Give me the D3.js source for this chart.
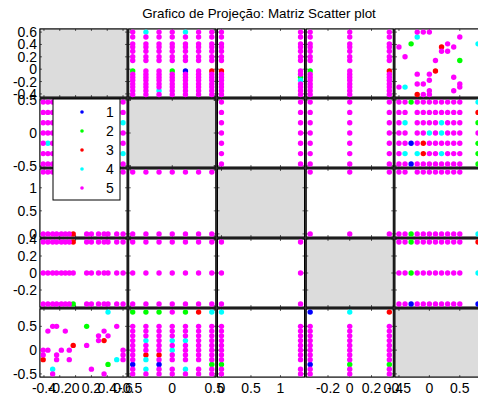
<!DOCTYPE html>
<html>
<head>
<meta charset="utf-8">
<script src="https://cdn.jsdelivr.net/npm/d3@7"></script>
<style>
  body { margin: 0; background: #fff; }
  svg { display: block; }
  text { font-family: "Liberation Sans", Arial, sans-serif; fill: #000; }
</style>
</head>
<body>
<svg id="chart" width="478" height="398"></svg>
<script>
// ---- data -------------------------------------------------------------
const chartTitle = "Grafico de Projeção: Matriz Scatter plot";
const classNames = ["1", "2", "3", "4", "5"];
const classColors = ["#0000ff", "#00ff00", "#ff0000", "#00ffff", "#ff00ff"];

// distinct values taken by each of the five projected variables
const v1Levels = [-0.41, -0.35, -0.29, -0.24, -0.18, -0.13, -0.08, -0.03, 0.14, 0.2, 0.29, 0.36, 0.41, 0.52, 0.6];
const v2Levels = [-0.47, -0.313, -0.157, 0, 0.157, 0.313, 0.47];
const v3Levels = [0, 1.34];
const v4Levels = [-0.364, 0, 0.364];
const v5Levels = [-0.5, -0.4, -0.3, -0.2, -0.1, 0, 0.1, 0.2, 0.3, 0.4, 0.5, 0.8];

// axis limits and tick values per variable
const varLimits = [[-0.45, 0.65], [-0.517, 0.517], [-0.067, 1.407], [-0.4, 0.4], [-0.565, 0.865]];
const varTicks = [[-0.4, -0.2, 0, 0.2, 0.4, 0.6], [-0.5, 0, 0.5], [0, 0.5, 1], [-0.2, 0, 0.2, 0.4], [-0.5, 0, 0.5]];

// level grids: one string per level of the first variable, one character
// per level of the second; the character is the top class in that cell, "." = empty
const grid12 = [ // v1 x v2
  "5555555", "5545555", "5555555", "5555555", "5555555", "5555555", "5555555",
  "2552153", "5555555", "5555555", "5555555", "5555555", "5555555", "5555555", "5455455"
];
const grid13 = [ // v1 x v3
  "55", "55", "55", "55", "54", "52", "55", "35", "55", "55", "55", "55", "55", "55", "55"
];
const grid14 = [ // v1 x v4
  "555", "555", "555", "555", "555", "555", "555", "253", "555", "555", "555", "555", "555", "555", "555"
];
const grid23 = ["55", "55", "55", "55", "55", "55", "55"];            // v2 x v3
const grid24 = ["555", "555", "555", "555", "555", "555", "555"];     // v2 x v4
const grid25 = [ // v2 x v5
  "551555555552",
  "54.435545552",
  "551535555552",
  "55.554545555",
  "54.555545552",
  "55.555555553",
  "552555555554"
];
const grid34 = ["555", "555"];                                       // v3 x v4
const grid35 = ["552555555554", "55.55555555."];                     // v3 x v5
const grid45 = ["551555555551", "552555555554", "552555555553"];     // v4 x v5

// v1 / v5 pairs: [v1, v5, class]
const v1v5Points = [
  [0.41, 0.8, 4], [-0.35, 0.4, 5], [-0.29, 0.5, 5], [-0.24, 0.5, 5], [-0.13, 0.4, 5],
  [0.14, 0.5, 2], [0.29, 0.3, 5], [0.41, 0.3, 5], [0.36, 0.4, 5], [0.52, 0.5, 5],
  [-0.03, 0.1, 3], [0.14, 0.1, 5], [0.29, 0.2, 5], [0.36, 0.2, 3], [-0.41, 0, 5],
  [-0.35, 0, 5], [-0.18, 0, 5], [-0.08, 0, 5], [0.6, 0, 5], [-0.41, -0.2, 3],
  [-0.41, -0.1, 5], [-0.24, -0.1, 5], [-0.24, -0.2, 5], [-0.08, -0.2, 5], [0.6, -0.1, 5],
  [0.6, -0.2, 5], [0.52, -0.2, 4], [0.41, -0.3, 2], [-0.29, -0.4, 4], [-0.29, -0.5, 5],
  [0.2, -0.4, 5], [0.36, -0.5, 5]
];

// ---- build point sets for every pair of variables ----------------------
const levels = [v1Levels, v2Levels, v3Levels, v4Levels, v5Levels];
function fromGrid(a, b, rows) {
  const pts = [];
  rows.forEach((row, i) => {
    row.split("").forEach((ch, j) => {
      if (ch !== ".") pts.push({ va: levels[a][i], vb: levels[b][j], cls: +ch });
    });
  });
  return pts;
}
const pairs = [
  { a: 0, b: 1, pts: fromGrid(0, 1, grid12) },
  { a: 0, b: 2, pts: fromGrid(0, 2, grid13) },
  { a: 0, b: 3, pts: fromGrid(0, 3, grid14) },
  { a: 0, b: 4, pts: v1v5Points.map(d => ({ va: d[0], vb: d[1], cls: d[2] })) },
  { a: 1, b: 2, pts: fromGrid(1, 2, grid23) },
  { a: 1, b: 3, pts: fromGrid(1, 3, grid24) },
  { a: 1, b: 4, pts: fromGrid(1, 4, grid25) },
  { a: 2, b: 3, pts: fromGrid(2, 3, grid34) },
  { a: 2, b: 4, pts: fromGrid(2, 4, grid35) },
  { a: 3, b: 4, pts: fromGrid(3, 4, grid45) }
];

// ---- layout -----------------------------------------------------------
const nVar = 5;
const plotLeft = 40, plotTop = 29, colStep = 88.75, rowStep = 70, cellW = 87, cellH = 68;
const svg = d3.select("#chart");

svg.append("text")
  .attr("x", 259).attr("y", 18)
  .attr("text-anchor", "middle")
  .style("font-size", "13.4px")
  .text(chartTitle);

const xScales = d3.range(nVar).map(c =>
  d3.scaleLinear().domain(varLimits[c]).range([plotLeft + c * colStep, plotLeft + c * colStep + cellW]));
const yScales = d3.range(nVar).map(r =>
  d3.scaleLinear().domain(varLimits[r]).range([plotTop + r * rowStep + cellH, plotTop + r * rowStep]));

// panel frames
const panels = [];
for (let r = 0; r < nVar; r++) for (let c = 0; c < nVar; c++) panels.push({ r, c });

svg.append("rect")
  .attr("x", plotLeft - 0.5).attr("y", plotTop - 0.5)
  .attr("width", (nVar - 1) * colStep + cellW + 1)
  .attr("height", (nVar - 1) * rowStep + cellH + 1)
  .attr("fill", "#3a3a3a");

const pg = svg.selectAll("g.panel").data(panels).join("g").attr("class", "panel");
pg.append("rect")
  .attr("x", d => xScales[d.c].range()[0])
  .attr("y", d => yScales[d.r].range()[1])
  .attr("width", cellW).attr("height", cellH)
  .attr("fill", d => d.r === d.c ? "#dcdcdc" : "#fff")
  .attr("stroke", "#000").attr("stroke-width", 1);

// inner tick marks on every panel
pg.each(function (d) {
  const g = d3.select(this);
  const xs = xScales[d.c], ys = yScales[d.r];
  const [x0, x1] = xs.range(), [y1, y0] = ys.range();
  varTicks[d.c].forEach(t => {
    const x = xs(t);
    g.append("line").attr("x1", x).attr("x2", x).attr("y1", y1).attr("y2", y1 - 2).attr("stroke", "#000").attr("stroke-width", 0.6);
    g.append("line").attr("x1", x).attr("x2", x).attr("y1", y0).attr("y2", y0 + 2).attr("stroke", "#000").attr("stroke-width", 0.6);
  });
  varTicks[d.r].forEach(t => {
    const y = ys(t);
    g.append("line").attr("x1", x0).attr("x2", x0 + 2).attr("y1", y).attr("y2", y).attr("stroke", "#000").attr("stroke-width", 0.6);
    g.append("line").attr("x1", x1).attr("x2", x1 - 2).attr("y1", y).attr("y2", y).attr("stroke", "#000").attr("stroke-width", 0.6);
  });
});

// scatter marks: each pair is drawn in both mirrored panels, classes in order
const marks = [];
pairs.forEach(p => {
  p.pts.forEach(pt => {
    marks.push({ r: p.a, c: p.b, x: pt.vb, y: pt.va, cls: pt.cls });
    marks.push({ r: p.b, c: p.a, x: pt.va, y: pt.vb, cls: pt.cls });
  });
});
marks.sort((m, n) => m.cls - n.cls);
svg.append("g").selectAll("circle").data(marks).join("circle")
  .attr("cx", d => xScales[d.c](d.x))
  .attr("cy", d => yScales[d.r](d.y))
  .attr("r", 2.7)
  .attr("fill", d => classColors[d.cls - 1]);

// tick labels: y on the first column, x under the last row
for (let r = 0; r < nVar; r++) {
  svg.append("g").selectAll("text").data(varTicks[r]).join("text")
    .attr("x", 37).attr("y", t => yScales[r](t))
    .attr("dy", "0.36em")
    .attr("text-anchor", "end")
    .style("font-size", "14px")
    .text(t => String(t));
}
for (let c = 0; c < nVar; c++) {
  svg.append("g").selectAll("text").data(varTicks[c]).join("text")
    .attr("x", t => xScales[c](t)).attr("y", 393)
    .attr("text-anchor", "middle")
    .style("font-size", "14px")
    .text(t => String(t));
}

// legend
const lg = svg.append("g");
lg.append("rect").attr("x", 53).attr("y", 99).attr("width", 67).attr("height", 101)
  .attr("fill", "#fff").attr("stroke", "#000").attr("stroke-width", 1);
classNames.forEach((name, i) => {
  lg.append("circle").attr("cx", 82).attr("cy", 112 + i * 19).attr("r", 1.8).attr("fill", classColors[i]);
  lg.append("text").attr("x", 110).attr("y", 112 + i * 19).attr("dy", "0.36em")
    .attr("text-anchor", "middle").style("font-size", "14px").text(name);
});
</script>
</body>
</html>
